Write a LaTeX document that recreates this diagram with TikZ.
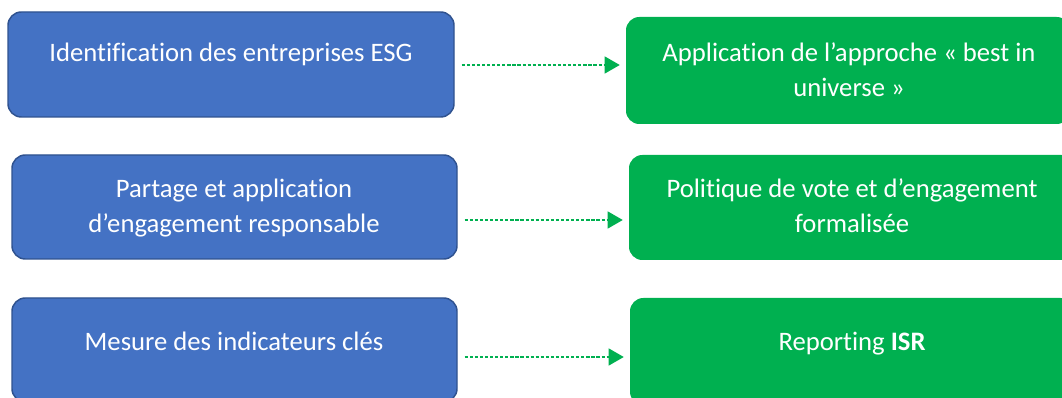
\documentclass[tikz,border=0pt]{standalone}
\usepackage{fontspec}
\setmainfont{Carlito}[Ligatures=CommonOff]
\usetikzlibrary{arrows.meta}
\definecolor{boxblue}{HTML}{4472C4}
\definecolor{boxblueline}{HTML}{2F528F}
\definecolor{boxgreen}{HTML}{00B050}
\tikzset{
  bluebox/.style={rectangle, rounded corners=10pt, fill=boxblue, draw=boxblueline, line width=1.1pt, inner sep=0pt},
  greenbox/.style={rectangle, rounded corners=10pt, fill=boxgreen, draw=none, inner sep=0pt},
  lbl/.style={text=white, font=\fontsize{20}{26.5}\selectfont, align=center, anchor=base, inner sep=0pt},
  arr/.style={draw=boxgreen, line width=0.8pt, dash pattern=on 2.4pt off 1.4pt, -{Triangle[length=11.25pt,width=12.75pt]}, shorten <=5.25pt, shorten >=4.5pt}
}
\begin{document}
\begin{tikzpicture}[x=0.75pt,y=-0.75pt]
\useasboundingbox (0,0) rectangle (1062,398);
\clip (0,0) rectangle (1062,398);
% boxes
\node[bluebox, minimum width=334.5pt, minimum height=78.75pt] (b1) at (231,64.5) {};
\node[greenbox, minimum width=333pt, minimum height=80.25pt] (g1) at (848,70.5) {};
\node[bluebox, minimum width=333.75pt, minimum height=78pt] (b2) at (234.5,207) {};
\node[greenbox, minimum width=334.5pt, minimum height=78.75pt] (g2) at (852,207.5) {};
\node[bluebox, minimum width=333.75pt, minimum height=78pt] (b3) at (234.5,350) {};
\node[greenbox, minimum width=333pt, minimum height=80.25pt] (g3) at (852,351.5) {};
% texts (base anchor = baseline of last line)
\node[lbl] (t1) at (231,62) {Identification des entreprises ESG};
\node[lbl] (u1) at (849,97) {Application de l’approche «~best in\\universe~»};
\node[lbl] (t2) at (234,233) {Partage et application\\d’engagement responsable};
\node[lbl] (u2) at (852,233) {Politique de vote et d’engagement\\formalisée};
\node[lbl] (t3) at (234,350) {Mesure des indicateurs clés};
\node[lbl] (u3) at (852,350) {Reporting \textbf{ISR}};
% connectors
\coordinate (y1) at (0,65);
\coordinate (y2) at (0,220);
\coordinate (y3) at (0,357);
\draw[arr] (b1.east |- y1) -- (g1.west |- y1);
\draw[arr] (b2.east |- y2) -- (g2.west |- y2);
\draw[arr] (b3.east |- y3) -- (g3.west |- y3);
\end{tikzpicture}
\end{document}
